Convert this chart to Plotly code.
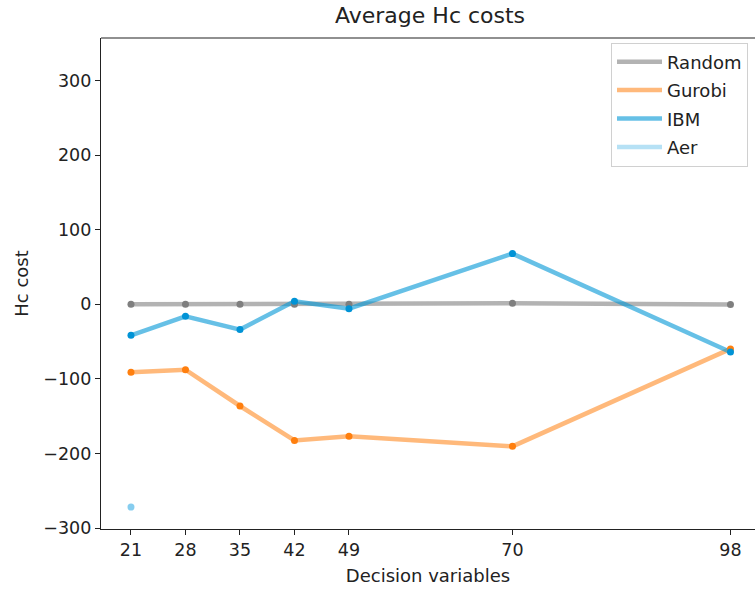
import plotly.graph_objects as go

decision_vars = [21, 28, 35, 42, 49, 70, 98]
random_cost = [0.0, 0.0, 0.0, 0.0, 0.0, 1.3, -0.4]
gurobi_cost = [-91.2, -87.6, -136.3, -182.4, -177.0, -190.4, -59.8]
ibm_cost = [-41.6, -16.1, -33.9, 4.0, -5.8, 68.0, -63.9]
aer_cost = [-271.8, None, None, None, None, None, None]

series = [
    ("Random", random_cost, "rgba(128,128,128,0.6)", "#7f7f7f"),
    ("Gurobi", gurobi_cost, "rgba(255,127,14,0.55)", "#ff7f0e"),
    ("IBM", ibm_cost, "rgba(0,150,214,0.6)", "#0093d6"),
    ("Aer", aer_cost, "rgba(110,195,235,0.5)", "#86cdef"),
]

fig = go.Figure()
for name, vals, lcol, mcol in series:
    fig.add_trace(go.Scatter(x=decision_vars, y=vals, mode="lines", name=name,
                             legendgroup=name,
                             line=dict(color=lcol, width=4.5), hoverinfo="skip"))
for name, vals, lcol, mcol in series:
    fig.add_trace(go.Scatter(x=decision_vars, y=vals, mode="markers", name=name,
                             legendgroup=name, showlegend=False,
                             marker=dict(color=mcol, size=7, line=dict(width=0))))

font = "DejaVu Sans"
fs = 17.5
axis_common = dict(showline=True, linecolor="#222", linewidth=1.2, ticks="outside",
                   ticklen=5, tickwidth=1, tickcolor="#222", showgrid=False,
                   zeroline=False, tickfont=dict(family=font, size=fs, color="#222"))

fig.update_layout(
    width=755, height=590,
    margin=dict(l=101, r=0, t=38, b=61),
    paper_bgcolor="white", plot_bgcolor="white",
    font=dict(family=font, size=fs, color="#222"),
    xaxis=dict(range=[17.15, 101.15], tickvals=decision_vars,
               ticktext=[str(v) for v in decision_vars],
               title=dict(text="Decision variables", font=dict(family=font, size=18, color="#222"), standoff=10),
               **axis_common),
    yaxis=dict(range=[-301.2, 357], tickvals=[-300, -200, -100, 0, 100, 200, 300],
               ticktext=["\u2212300", "\u2212200", "\u2212100", "0", "100", "200", "300"],
               title=dict(text="Hc cost", font=dict(family=font, size=18, color="#222"), standoff=10),
               **axis_common),
    legend=dict(x=0.9893, y=0.9908, xanchor="right", yanchor="top",
                bgcolor="white", bordercolor="#d0d0d0", borderwidth=1,
                font=dict(family=font, size=18, color="#222"), tracegroupgap=2,
                traceorder="grouped", itemwidth=45),
    shapes=[dict(type="line", xref="paper", yref="paper", x0=0, x1=1, y0=1, y1=1,
                 line=dict(color="#222", width=1.2))],
    annotations=[dict(text="Average Hc costs", xref="paper", yref="paper", x=0.5037, y=1,
                      yshift=8, xanchor="center", yanchor="bottom", showarrow=False,
                      font=dict(family=font, size=22, color="#222"))],
    showlegend=True,
)

fig.write_html("out.html")
